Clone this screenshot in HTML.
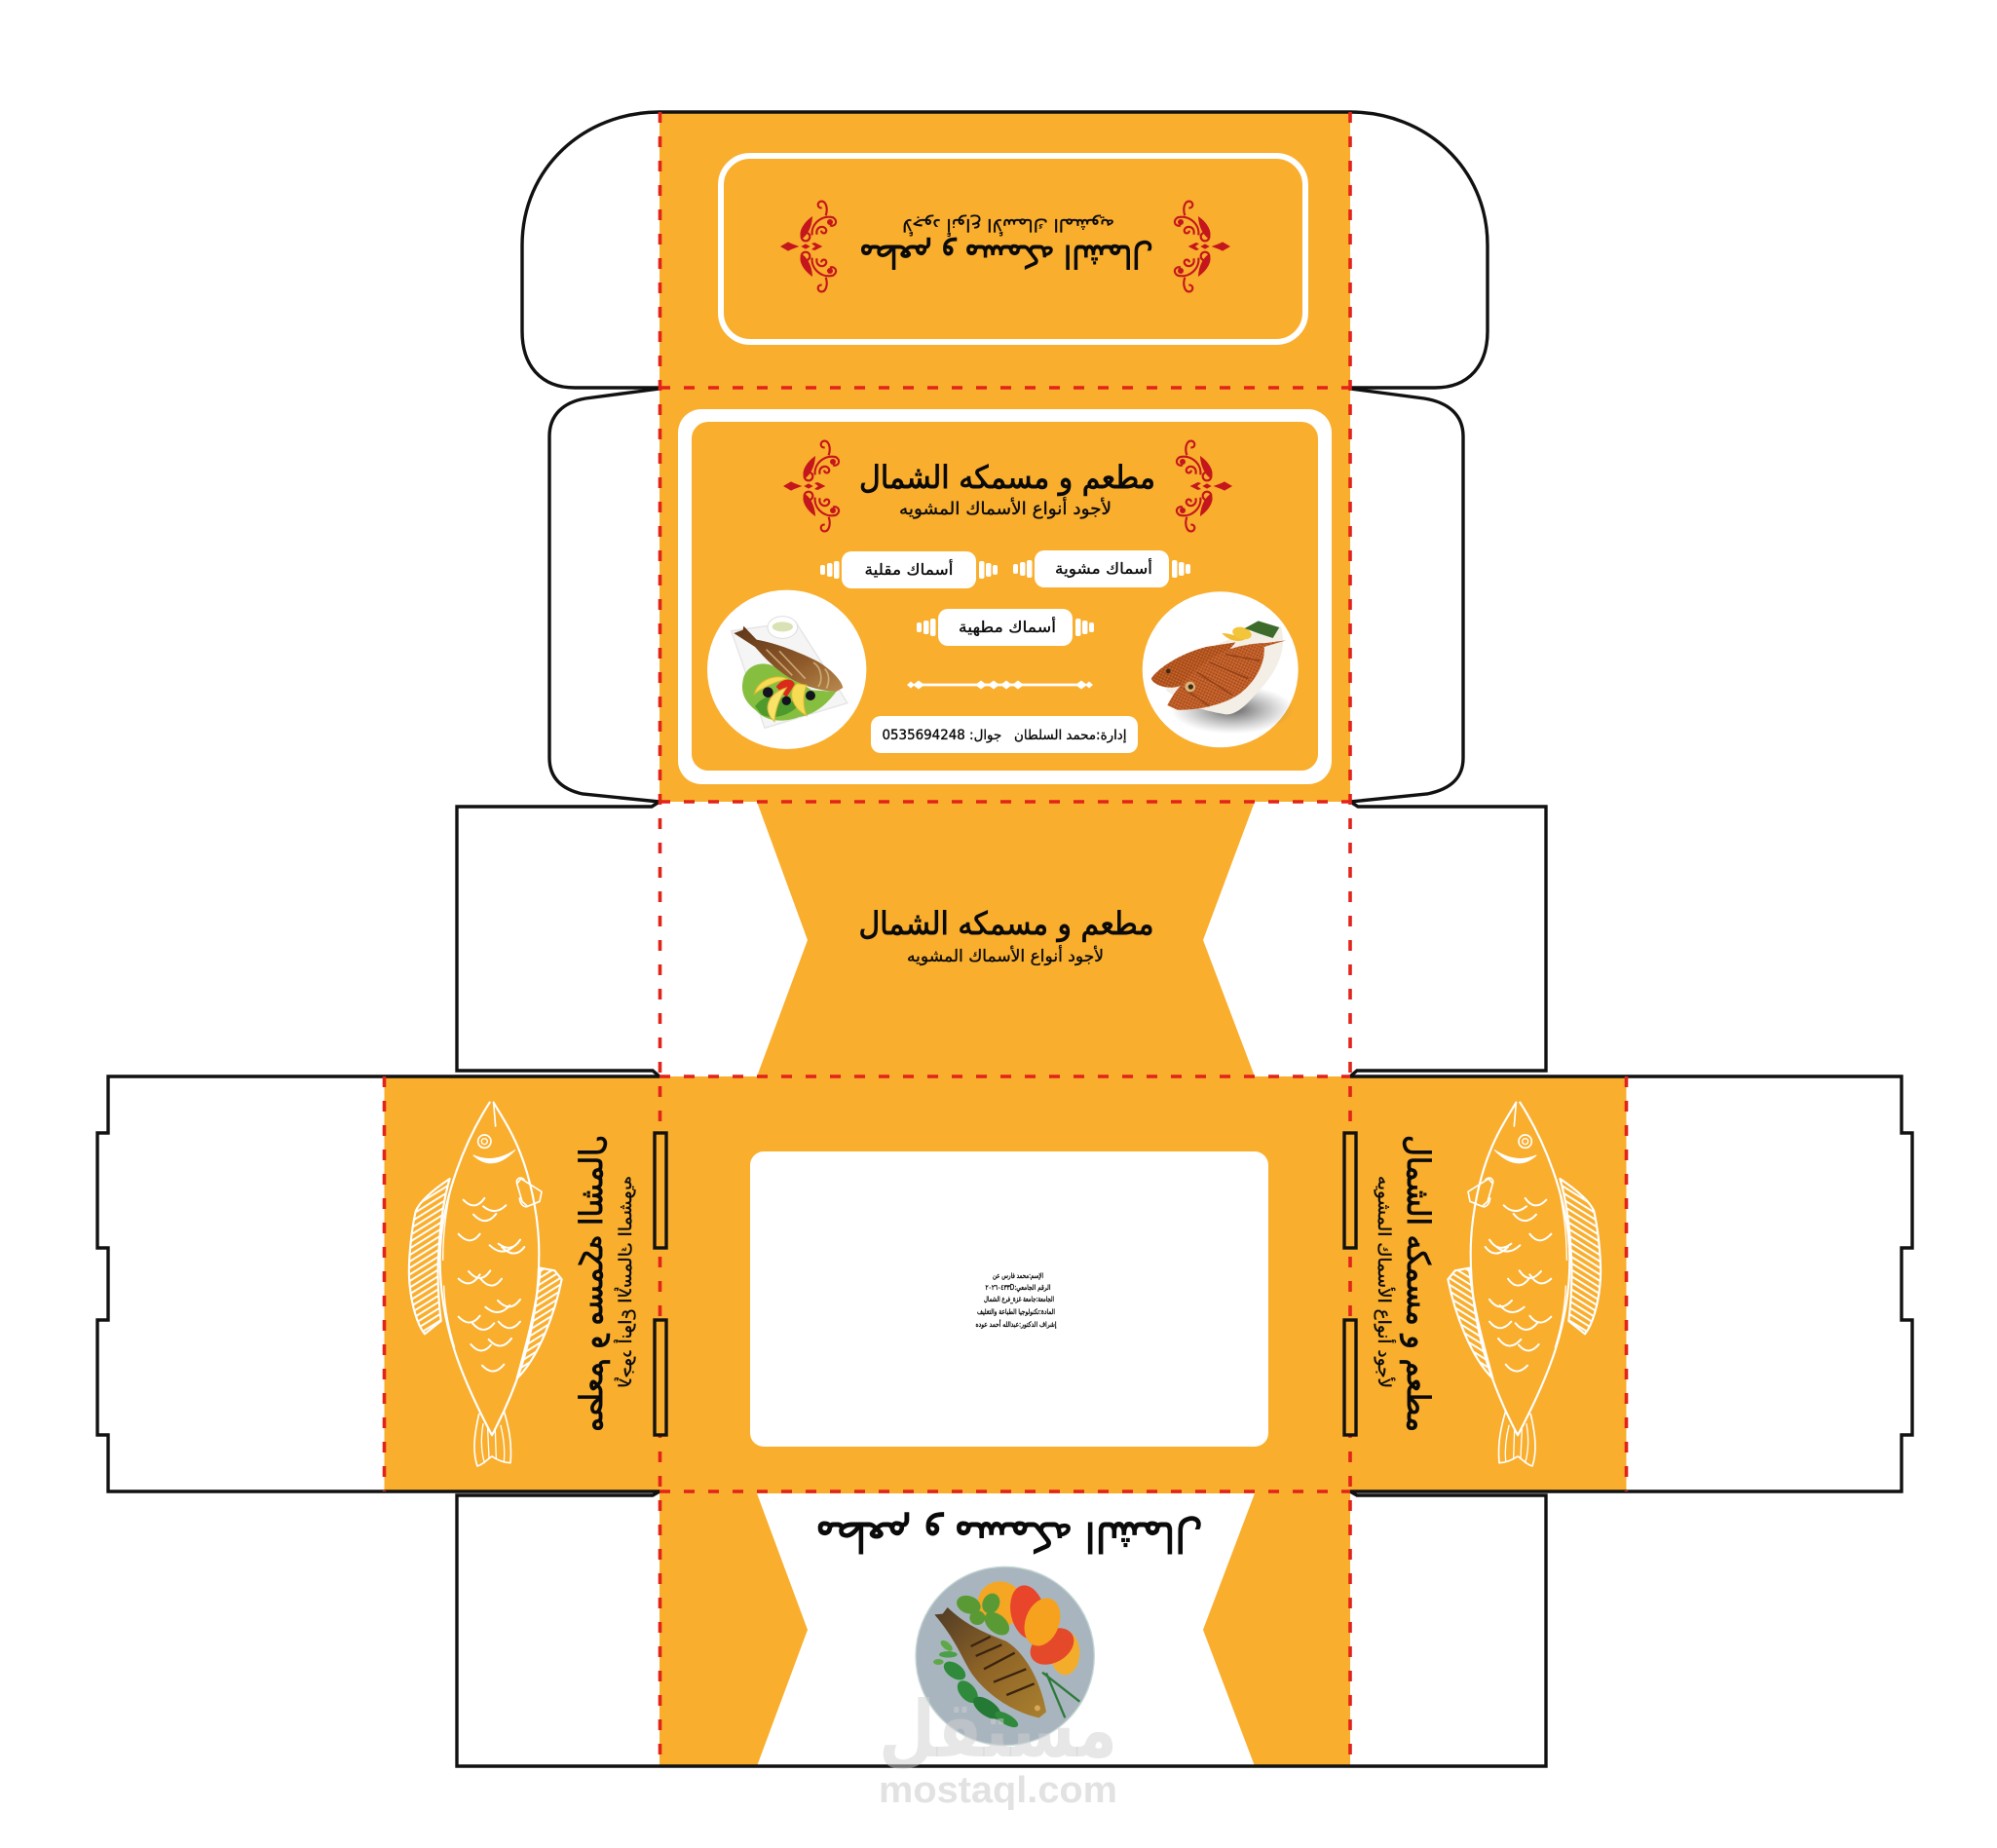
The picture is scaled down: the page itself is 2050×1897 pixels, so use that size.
<!DOCTYPE html>
<html lang="ar">
<head>
<meta charset="utf-8">
<title>Box</title>
<style>
html,body{margin:0;padding:0;background:#fff}
svg{display:block}
.ar{font-family:"DejaVu Sans","Liberation Sans",sans-serif;direction:rtl;text-anchor:middle;fill:#0a0a0a;stroke:#0a0a0a;stroke-width:.35}
.t{stroke-width:.9}
.cut{fill:none;stroke:#111;stroke-width:3.4}
.fold{fill:none;stroke:#e2231a;stroke-width:3.6;stroke-dasharray:11 14}
</style>
</head>
<body>
<svg width="2050" height="1897" viewBox="0 0 2050 1897" xmlns="http://www.w3.org/2000/svg">
<defs>
<pattern id="hatch" width="17" height="17" patternUnits="userSpaceOnUse" patternTransform="rotate(-32)">
<rect width="17" height="17" fill="none"/><rect y="0" width="17" height="6" fill="#fff"/>
</pattern>
<pattern id="stip" width="9" height="9" patternUnits="userSpaceOnUse" patternTransform="rotate(25)">
<rect width="9" height="9" fill="none"/><circle cx="2" cy="2" r="1.8" fill="#8c3c14"/><circle cx="7" cy="6" r="1.5" fill="#dd8a45"/>
</pattern>
<linearGradient id="gf1" x1="0" y1="0" x2="1" y2="1"><stop offset="0" stop-color="#5e3518"/><stop offset=".6" stop-color="#8f5a2a"/><stop offset="1" stop-color="#b98a4e"/></linearGradient>
<linearGradient id="gf3" x1="0" y1="0" x2="1" y2="1"><stop offset="0" stop-color="#4e3a25"/><stop offset=".5" stop-color="#8f6426"/><stop offset="1" stop-color="#a8802f"/></linearGradient>
<radialGradient id="shad"><stop offset="0" stop-color="#444" stop-opacity=".85"/><stop offset="1" stop-color="#777" stop-opacity="0"/></radialGradient>
<g id="orn">
 <g id="ornh" fill="none" stroke="#c4161c" stroke-width="6.5">
  <path d="M530,266 C506,283 486,312 498,332 C512,324 528,300 530,266Z" fill="#c4161c" stroke-width="2"/>
  <circle cx="510" cy="327" r="13"/>
  <path d="M530,322 C526,288 560,258 595,268 C612,280 600,298 585,292"/>
  <circle cx="585" cy="282" r="9" fill="#c4161c" stroke="none"/>
  <path d="M545,320 C538,295 570,288 574,308 C572,320 560,318 558,308"/>
  <path d="M572,262 C580,238 572,215 556,218 C544,222 546,240 560,238"/>
 </g>
 <use href="#ornh" transform="translate(0,714) scale(1,-1)"/>
 <path d="M432,357 L456,343 L466,348 L490,357 L466,366 L456,371Z" fill="#c4161c"/>
 <path d="M496,357 L510,349 L524,357 L510,365Z" fill="#c4161c"/>
 <path d="M528,348 L538,345 L562,357 L538,369 L528,366 L540,357Z" fill="#c4161c"/>
</g>
<g id="fish" fill="none" stroke="#fff" stroke-width="6.5" stroke-linecap="round" stroke-linejoin="round">
 <path d="M278,35 C210,140 125,330 125,520 C125,720 190,880 285,1060 C370,900 430,720 430,500 C430,380 400,260 372,190 C345,120 310,70 290,35"/>
 <path d="M134,520 C134,420 150,330 165,275 M137,600 C140,680 155,740 170,790" stroke-width="4"/>
 <path d="M290,35 L296,108" stroke-width="5"/>
 <circle cx="262" cy="155" r="20" stroke-width="5"/><circle cx="262" cy="155" r="9" stroke-width="4"/>
 <path d="M228,198 Q288,252 356,182 Q290,225 228,198Z" fill="#fff" stroke-width="3"/>
 <path d="M375,270 L438,310 L432,340 L395,355 L378,340 L362,285Z M362,285 C358,270 372,262 384,272 M395,355 C385,360 372,350 370,330" stroke-width="5"/>
 <path d="M155,270 C110,300 65,335 50,370 C35,440 25,540 32,600 C38,660 55,720 78,748 L128,708 C120,640 115,560 122,480 C126,400 140,320 155,270Z" fill="url(#hatch)"/>
 <path d="M435,545 L478,553 L500,580 C480,680 430,820 362,885 C385,800 420,680 435,545Z" fill="url(#hatch)"/>
 <path d="M245,995 C230,1060 225,1110 240,1155 C260,1150 275,1130 285,1125 C300,1135 320,1145 342,1145 C348,1080 335,1030 322,985" stroke-width="5"/>
 <path d="M258,1025 C250,1070 252,1110 262,1145 M272,1040 L276,1130 M295,1040 L298,1130 M312,1030 C322,1070 325,1110 322,1142" stroke-width="4"/>
 <g stroke-width="6">
 <path d="M197,335 Q232,372 262,330"/><path d="M258,355 Q295,385 328,352"/><path d="M228,380 Q265,420 298,378"/>
 <path d="M182,440 Q218,480 248,440"/><path d="M278,475 Q315,510 350,480"/><path d="M305,470 Q345,500 372,458"/><path d="M315,480 Q355,520 385,480"/>
 <path d="M182,578 Q218,612 248,565"/><path d="M213,555 Q250,598 280,553"/><path d="M250,578 Q285,620 315,578"/>
 <path d="M265,665 Q305,700 340,660"/><path d="M303,645 Q340,685 372,642"/>
 <path d="M182,695 Q218,732 248,692"/><path d="M225,715 Q260,755 292,715"/><path d="M305,710 Q340,750 372,710"/>
 <path d="M220,780 Q252,818 282,782"/><path d="M275,765 Q312,806 345,762"/><path d="M255,845 Q290,882 322,842"/>
 </g>
</g>
<g id="bars" fill="#fff">
 <rect x="-22" y="-5" width="5" height="10" rx="2"/>
 <rect x="-15" y="-7" width="5.5" height="14" rx="2"/>
 <rect x="-8" y="-9" width="5.5" height="18" rx="2"/>
 <rect x="141" y="-9" width="5.5" height="18" rx="2"/>
 <rect x="148" y="-7" width="5.5" height="14" rx="2"/>
 <rect x="155" y="-5" width="5" height="10" rx="2"/>
</g>
</defs>

<!-- orange panels -->
<rect x="677" y="115" width="709" height="708" fill="#f9ae2e"/>
<polygon points="777,823 1288,823 1235,965 1288,1105 777,1105 829,965" fill="#f9ae2e"/>
<rect x="394.5" y="1105" width="1275" height="426" fill="#f9ae2e"/>
<rect x="677" y="1531" width="709" height="282" fill="#f9ae2e"/>
<polygon points="777,1533 1288,1533 1235,1673 1288,1813 777,1813 829,1673" fill="#fff"/>
<rect x="770" y="1182" width="532" height="303" rx="14" fill="#fff"/>

<!-- cut lines -->
<path class="cut" d="M677,115 L1386,115"/>
<path class="cut" d="M677,115 C600,115 536,172 536,252 L536,340 C536,375 555,398 590,398 L677,398"/>
<path class="cut" d="M1386,115 C1463,115 1527,172 1527,252 L1527,340 C1527,375 1508,398 1473,398 L1386,398"/>
<path class="cut" d="M677,399 L601,409 C578,413 564,426 564,448 L564,778 C564,798 576,810 598,815 L677,823 L669,828 L469,828 L469,1099 L670,1099 L677,1105"/>
<path class="cut" d="M1386,399 L1462,409 C1487,413 1502,426 1502,448 L1502,778 C1502,798 1490,810 1465,815 L1386,823 L1394,828 L1587,828 L1587,1099 L1393,1099 L1386,1105"/>
<path class="cut" d="M677,1105 L111,1105 L111,1163 L100,1163 L100,1281 L111,1281 L111,1355 L100,1355 L100,1473 L111,1473 L111,1531 L677,1531"/>
<path class="cut" d="M1386,1105 L1952,1105 L1952,1163 L1963,1163 L1963,1281 L1952,1281 L1952,1355 L1963,1355 L1963,1473 L1952,1473 L1952,1531 L1386,1531"/>
<path class="cut" d="M677,1531 L670,1535 L469,1535 L469,1813 L1587,1813 L1587,1535 L1393,1535 L1386,1531"/>

<!-- folds -->
<path class="fold" d="M677.5,115 V1813 M1386,115 V1813 M394.5,1105 V1531 M1669.5,1105 V1531"/>
<path class="fold" d="M677,398 H1386 M677,823 H1386 M677,1105 H1386 M677,1531 H1386"/>
<g fill="#f9ae2e" stroke="#111" stroke-width="3.4">
<rect x="672" y="1163" width="12" height="118"/><rect x="672" y="1355" width="12" height="118"/>
<rect x="1380" y="1163" width="12" height="118"/><rect x="1380" y="1355" width="12" height="118"/>
</g>

<!-- top panel -->
<rect x="740" y="160" width="600" height="191" rx="30" fill="none" stroke="#fff" stroke-width="6"/>
<use href="#orn" transform="translate(827,253) scale(.3333) translate(-510,-357)"/>
<use href="#orn" transform="translate(1237,253) scale(-.3333,.3333) translate(-510,-357)"/>
<text class="ar t" transform="translate(1033,252) rotate(180)" font-size="32" textLength="302" lengthAdjust="spacingAndGlyphs">مطعم و مسمكه الشمال</text>
<text class="ar" transform="translate(1035,225) rotate(180)" font-size="18" textLength="218" lengthAdjust="spacingAndGlyphs">لأجود أنواع الأسماك المشويه</text>

<!-- main panel -->
<rect x="696" y="420" width="671" height="385" rx="24" fill="#fff"/>
<rect x="710" y="433" width="643" height="358" rx="17" fill="#f9ae2e"/>
<use href="#orn" transform="translate(830,499) scale(.3333) translate(-510,-357)"/>
<use href="#orn" transform="translate(1239,499) scale(-.3333,.3333) translate(-510,-357)"/>
<text class="ar t" x="1034" y="501" font-size="32" textLength="304" lengthAdjust="spacingAndGlyphs">مطعم و مسمكه الشمال</text>
<text class="ar" x="1032" y="528" font-size="18" textLength="218" lengthAdjust="spacingAndGlyphs">لأجود أنواع الأسماك المشويه</text>

<g>
<rect x="864" y="566" width="138" height="38" rx="10" fill="#fff"/><use href="#bars" transform="translate(864,585)"/>
<text class="ar" x="933" y="590" font-size="16" textLength="91" lengthAdjust="spacingAndGlyphs">أسماك مقلية</text>
<rect x="1062" y="565" width="138" height="38" rx="10" fill="#fff"/><use href="#bars" transform="translate(1062,584)"/>
<text class="ar" x="1133" y="589" font-size="16" textLength="100" lengthAdjust="spacingAndGlyphs">أسماك مشوية</text>
<rect x="963" y="625" width="138" height="38" rx="10" fill="#fff"/><use href="#bars" transform="translate(963,644)"/>
<text class="ar" x="1034" y="649" font-size="16" textLength="100" lengthAdjust="spacingAndGlyphs">أسماك مطهية</text>
<rect x="894" y="735" width="274" height="38" rx="10" fill="#fff"/>
<text class="ar" x="1031" y="759" font-size="14" textLength="251" lengthAdjust="spacingAndGlyphs" xml:space="preserve">إدارة:محمد السلطان   جوال: 0535694248</text>
</g>
<!-- divider -->
<g fill="#fff">
<rect x="940" y="701.6" width="172" height="2.8"/>
<path d="M931,703 L935,699.5 L939,703 L935,706.5Z M937,703 L943,698.5 L949,703 L943,707.5Z M1001,703 L1007,698.5 L1013,703 L1007,707.5Z M1014,703 L1020,698.5 L1026,703 L1020,707.5Z M1027,703 L1033,698.5 L1039,703 L1033,707.5Z M1039,703 L1045,698.5 L1051,703 L1045,707.5Z M1104,703 L1110,698.5 L1116,703 L1110,707.5Z M1114,703 L1118,699.5 L1122,703 L1118,706.5Z"/>
</g>

<!-- left food circle -->
<circle cx="807.7" cy="687.3" r="81.7" fill="#fff"/>
<g transform="translate(720,600) scale(.3333)">
 <path d="M92,143 L290,115 L450,365 L195,442 Z" fill="#f5f5f5" stroke="#e4e4e4" stroke-width="4" stroke-linejoin="round"/>
 <ellipse cx="250" cy="132" rx="46" ry="34" fill="#fff" stroke="#ddd" stroke-width="3"/>
 <ellipse cx="250" cy="130" rx="32" ry="15" fill="#d8e2b4"/>
 <path d="M128,295 C135,250 190,225 240,262 L340,325 L415,330 C385,372 345,402 300,408 C260,425 200,425 168,388 C135,362 120,335 128,295Z" fill="#86bf40"/>
 <path d="M165,375 C200,330 240,340 300,370 C280,400 220,420 185,400Z" fill="#4f9a2c"/>
 <path d="M100,150 L128,140 L130,128 L170,170 C230,180 310,212 360,238 C400,262 432,295 436,318 L415,330 C380,328 330,318 285,295 C235,268 200,232 165,192 Z" fill="url(#gf1)"/>
 <path d="M200,200 L280,280 M240,205 L320,290 M345,240 C370,255 375,295 360,315 M380,260 C395,275 395,300 385,320" stroke="#d9b985" stroke-width="5" fill="none" opacity=".8"/>
 <path d="M230,315 C250,285 285,288 287,308 L262,348 Z" fill="#d92a1c"/>
 <path d="M163,337 C175,292 230,275 264,290 C222,302 192,315 163,337Z" fill="#f6dc55" stroke="#e0b830" stroke-width="3"/>
 <path d="M225,422 C185,385 205,335 262,318 C240,350 228,385 225,422Z" fill="#f8e26a" stroke="#e0b830" stroke-width="3"/>
 <path d="M324,404 C280,380 262,330 295,305 L324,310 C312,340 312,375 324,404Z" fill="#f6dc55" stroke="#e0b830" stroke-width="3"/>
 <circle cx="205" cy="332" r="16" fill="#14141e"/><circle cx="262" cy="358" r="14" fill="#14141e"/><circle cx="336" cy="342" r="15" fill="#14141e"/>
</g>

<!-- right food circle -->
<circle cx="1252.7" cy="687.3" r="80" fill="#fff"/>
<g transform="translate(1165,600) scale(.3333)">
 <ellipse cx="300" cy="385" rx="190" ry="75" fill="url(#shad)"/>
 <path d="M95,325 C170,215 280,150 450,130 C470,200 440,270 370,340 C340,375 310,402 280,400 C250,395 200,385 150,365 Z" fill="#f3efe6"/>
 <path d="M50,290 C70,258 140,212 220,192 L310,178 C280,215 210,295 130,315 C100,322 60,312 50,290Z" fill="#b4541e"/>
 <path d="M50,290 C70,258 140,212 220,192 L310,178 C280,215 210,295 130,315 C100,322 60,312 50,290Z" fill="url(#stip)"/>
 <path d="M268,150 C290,175 320,178 338,170 C315,160 295,150 268,150Z" fill="#f1bd35"/>
 <ellipse cx="330" cy="150" rx="30" ry="18" fill="#f3c53a" transform="rotate(15 330 150)"/>
 <path d="M338,135 L380,112 L445,132 L425,165 L385,152Z" fill="#3d6b2b"/>
 <path d="M100,372 C125,320 190,245 275,205 C320,188 370,180 405,180 L465,172 L398,192 C402,240 375,295 325,335 C280,368 200,388 130,386 Z" fill="#bf5c28"/>
 <path d="M100,372 C125,320 190,245 275,205 C320,188 370,180 405,180 L465,172 L398,192 C402,240 375,295 325,335 C280,368 200,388 130,386 Z" fill="url(#stip)"/>
 <path d="M190,270 L300,340 M230,240 L350,290 M280,215 L385,235 M150,320 L230,375" stroke="#8f3f16" stroke-width="4" fill="none"/>
 <circle cx="170" cy="315" r="16" fill="#dcb477"/><circle cx="172" cy="315" r="8" fill="#3c2a18"/>
 <circle cx="103" cy="267" r="7" fill="#3c2a18"/>
</g>

<!-- small details text -->
<g font-size="7.5">
<text class="ar" x="1045" y="1312" textLength="52" lengthAdjust="spacingAndGlyphs">الإسم:محمد فارس عن</text>
<text class="ar" x="1045" y="1324" textLength="67" lengthAdjust="spacingAndGlyphs">الرقم الجامعي:٢٠٢٦٠٤٣٣D</text>
<text class="ar" x="1046" y="1336" textLength="72" lengthAdjust="spacingAndGlyphs">الجامعة:جامعة غزة_فرع الشمال</text>
<text class="ar" x="1043" y="1349" textLength="80" lengthAdjust="spacingAndGlyphs">المادة:تكنولوجيا الطباعة والتغليف</text>
<text class="ar" x="1043" y="1362" textLength="83" lengthAdjust="spacingAndGlyphs">إشراف الدكتور:عبدالله أحمد عوده</text>
</g>

<!-- middle panel -->
<text class="ar t" x="1033" y="959" font-size="32" textLength="303" lengthAdjust="spacingAndGlyphs">مطعم و مسمكه الشمال</text>
<text class="ar" x="1032" y="987" font-size="17" textLength="202" lengthAdjust="spacingAndGlyphs">لأجود أنواع الأسماك المشويه</text>

<!-- side fishes and texts -->
<use href="#fish" transform="translate(410,1120) scale(.3333)"/>
<use href="#fish" transform="translate(1653,1120) scale(-.3333,.3333)"/>
<text class="ar t" transform="translate(1445,1317.5) rotate(90)" font-size="32" textLength="305" lengthAdjust="spacingAndGlyphs">مطعم و مسمكه الشمال</text>
<text class="ar" transform="translate(1415,1316) rotate(90)" font-size="18" textLength="218" lengthAdjust="spacingAndGlyphs">لأجود أنواع الأسماك المشويه</text>
<text class="ar t" transform="translate(618,1317.5) scale(-1,1) rotate(90)" font-size="32" textLength="305" lengthAdjust="spacingAndGlyphs">مطعم و مسمكه الشمال</text>
<text class="ar" transform="translate(648,1316) scale(-1,1) rotate(90)" font-size="18" textLength="218" lengthAdjust="spacingAndGlyphs">لأجود أنواع الأسماك المشويه</text>

<!-- bottom panel -->
<text class="ar t" transform="translate(1036,1563) rotate(180)" font-size="42" textLength="398" lengthAdjust="spacingAndGlyphs" style="stroke-width:1.1">مطعم و مسمكه الشمال</text>
<g transform="translate(930,1600) scale(.3333)">
 <circle cx="305" cy="300" r="275" fill="#a9b5be" stroke="#c4d6d4" stroke-width="4"/>
 <ellipse cx="290" cy="140" rx="70" ry="70" fill="#f5a623"/>
 <ellipse cx="490" cy="290" rx="45" ry="68" fill="#f4ad2b"/>
 <ellipse cx="450" cy="270" rx="72" ry="50" fill="#e44a2a" transform="rotate(-30 450 270)"/>
 <ellipse cx="375" cy="165" rx="52" ry="84" fill="#e8452a" transform="rotate(-12 375 165)"/>
 <ellipse cx="420" cy="195" rx="52" ry="76" fill="#f6a21e" transform="rotate(20 420 195)"/>
 <path d="M420,350 L535,440 M432,352 L490,490" stroke="#2d7a3a" stroke-width="7" fill="none"/>
 <g fill="#2f8a3c">
 <ellipse cx="125" cy="268" rx="22" ry="11" transform="rotate(40 125 268)" fill="#5fa84a"/>
 <ellipse cx="100" cy="318" rx="16" ry="9" fill="#5fa84a"/>
 <ellipse cx="150" cy="345" rx="38" ry="22" transform="rotate(35 150 345)"/>
 <ellipse cx="190" cy="410" rx="40" ry="24" transform="rotate(50 190 410)"/>
 <ellipse cx="250" cy="460" rx="50" ry="24" transform="rotate(35 250 460)" fill="#247a35"/>
 <ellipse cx="310" cy="495" rx="40" ry="16" transform="rotate(30 310 495)"/>
 <ellipse cx="130" cy="295" rx="28" ry="10" fill="#4c9f48"/>
 </g>
 <g fill="#5a9a35">
 <ellipse cx="193" cy="142" rx="38" ry="27" transform="rotate(20 193 142)"/>
 <ellipse cx="262" cy="138" rx="26" ry="32" transform="rotate(25 262 138)"/>
 <ellipse cx="220" cy="182" rx="24" ry="22"/>
 <ellipse cx="280" cy="200" rx="44" ry="28" transform="rotate(40 280 200)"/>
 </g>
 <path d="M88,172 L113,170 L128,150 C190,210 250,230 310,255 C380,300 420,400 432,472 L410,490 C320,470 240,410 200,350 C170,300 150,245 88,172Z" fill="url(#gf3)"/>
 <path d="M200,270 L260,240 M215,300 L295,265 M240,340 L335,290 M270,380 L370,340 M310,420 L395,385" stroke="#3a2410" stroke-width="7" fill="none"/>
 <circle cx="405" cy="460" r="9" fill="#d9a75a"/>
</g>

<!-- watermark -->
<text x="1024.5" y="1803" font-family="DejaVu Sans, sans-serif" font-weight="bold" font-size="80" direction="rtl" text-anchor="middle" textLength="245" lengthAdjust="spacingAndGlyphs" fill="#cfcfcf" fill-opacity=".5">مستقل</text>
<text x="1024.5" y="1850" font-family="Liberation Sans, sans-serif" font-weight="bold" font-size="38" text-anchor="middle" textLength="245" lengthAdjust="spacingAndGlyphs" fill="#e2e2e2">mostaql.com</text>
</svg>
</body>
</html>
